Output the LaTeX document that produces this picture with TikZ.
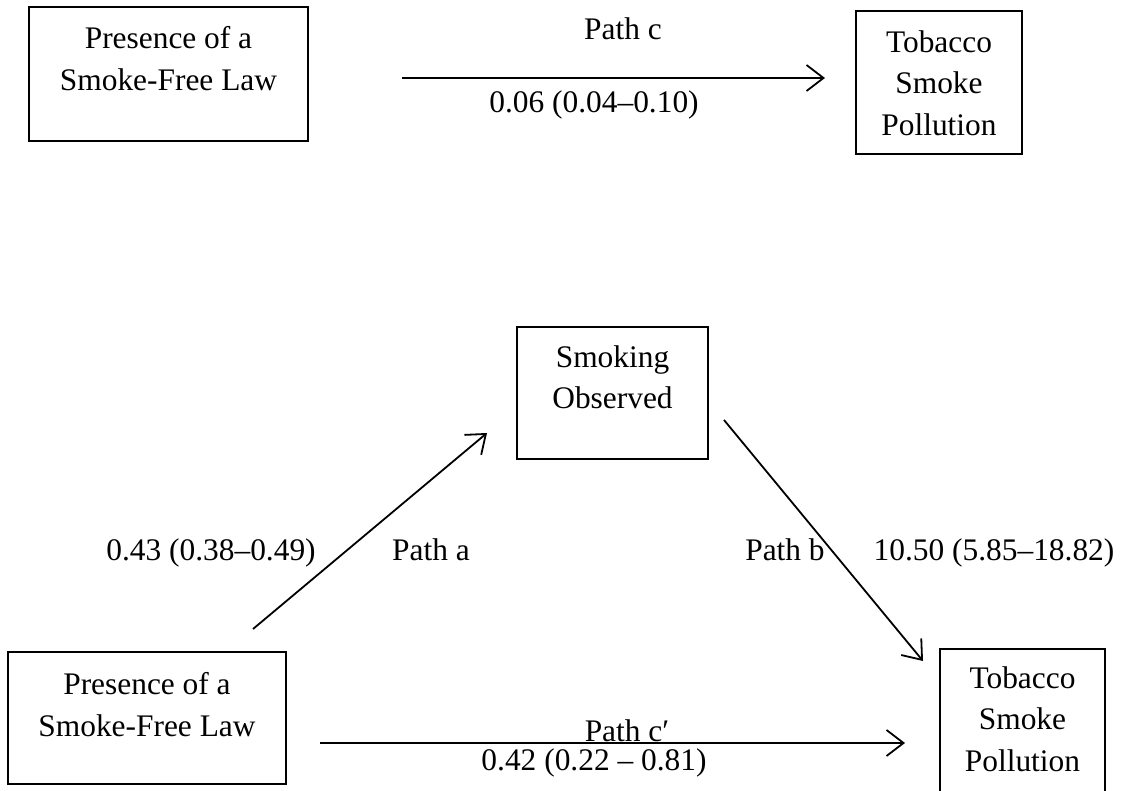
\documentclass[tikz,border=0pt]{standalone}
\usepackage{fontspec}
\setmainfont{Liberation Serif}
\usetikzlibrary{arrows.meta}

\tikzset{
  box/.style={draw=black, line width=2.2pt, fill=none, inner sep=0pt},
  boxtext/.style={align=center, inner sep=0pt, anchor=north,
    font=\fontsize{31.4}{41.5}\selectfont},
  lbl/.style={inner sep=0pt, anchor=base, font=\fontsize{31.4}{41.5}\selectfont},
  path arrow/.style={line width=1.8pt, -{Straight Barb[length=17pt,width=26pt]}}
}

\begin{document}
\begin{tikzpicture}[x=1pt,y=-1pt]
  \useasboundingbox (0,0) rectangle (1125,791);

  % ---- total effect (upper model) ----
  \node[box, minimum width=279pt, minimum height=134pt] (law1) at (168.5,74) {};
  \node[boxtext] (law1t) at (168.5,26.5) {Presence of a\\Smoke-Free Law};

  \node[box, minimum width=166pt, minimum height=143pt] (tsp1) at (939,82.5) {};
  \node[boxtext] (tsp1t) at (939,30.5) {Tobacco\\Smoke\\Pollution};

  \coordinate (cStart) at (402,78);
  \coordinate (cEnd)   at (825,78);
  \draw[path arrow] (cStart) -- (cEnd);
  \node[lbl] (pathc)  at (623,40)  {Path c};
  \node[lbl] (effc)   at (594,113) {0.06 (0.04–0.10)};

  % ---- mediation model (lower) ----
  \node[box, minimum width=191pt, minimum height=132pt] (obs) at (612.5,393) {};
  \node[boxtext] (obst) at (612.5,345.5) {Smoking\\Observed};

  \node[box, minimum width=278pt, minimum height=132pt] (law2) at (147,718) {};
  \node[boxtext] (law2t) at (147,672.5) {Presence of a\\Smoke-Free Law};

  \node[box, minimum width=165pt, minimum height=143pt] (tsp2) at (1022.5,720.5) {};
  \node[boxtext] (tsp2t) at (1022.5,666.5) {Tobacco\\Smoke\\Pollution};

  \coordinate (aStart) at (253,629);
  \coordinate (aEnd)   at (487,433);
  \coordinate (bStart) at (724,420);
  \coordinate (bEnd)   at (923,661);
  \coordinate (dStart) at (320,743);
  \coordinate (dEnd)   at (905,743);

  \draw[path arrow] (aStart) -- (aEnd);
  \draw[path arrow] (bStart) -- (bEnd);
  \draw[path arrow] (dStart) -- (dEnd);

  \node[lbl] (effa)  at (211,560) {0.43 (0.38–0.49)};
  \node[lbl] (patha) at (431,560) {Path a};
  \node[lbl] (pathb) at (785,560) {Path b};
  \node[lbl] (effb)  at (994,560) {10.50 (5.85–18.82)};

  \node[lbl] (pathd) at (627,741) {Path c′};
  \node[lbl] (effd)  at (594,770) {0.42 (0.22 – 0.81)};
\end{tikzpicture}
\end{document}
